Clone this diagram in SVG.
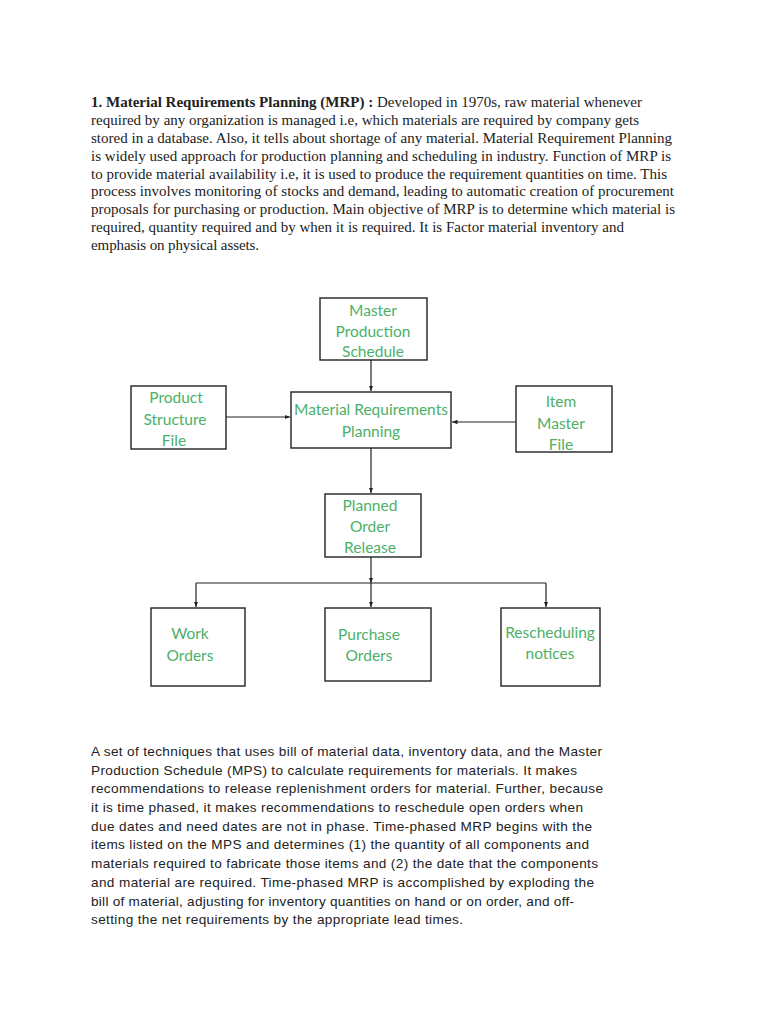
<svg xmlns="http://www.w3.org/2000/svg" width="768" height="1024" viewBox="0 0 768 1024">
<defs>
<style>
.p1{font-family:"Liberation Serif","Times New Roman",serif;font-size:15px;fill:#222}
.p2{font-family:"Liberation Sans",Arial,sans-serif;font-size:13.6px;fill:#222}
.box{fill:#fff;stroke:#222;stroke-width:1.4}
.lbl{font-family:Lato,"Open Sans",sans-serif;font-size:15.5px;fill:#4cb068;text-anchor:middle}
.con{stroke:#222;stroke-width:1.2;fill:none}
</style>
<marker id="ah" viewBox="0 0 10 10" refX="10" refY="5" markerWidth="5.5" markerHeight="5.5" orient="auto" markerUnits="userSpaceOnUse">
<path d="M0,1 L10,5 L0,9 z" fill="#222"/>
</marker>
</defs>
<rect width="768" height="1024" fill="#fff"/>
<g id="intro">
<text class="p1" x="91" y="107" textLength="551" lengthAdjust="spacing"><tspan font-weight="bold">1. Material Requirements Planning (MRP) :</tspan> Developed in 1970s, raw material whenever</text>
<text class="p1" x="91" y="125" textLength="548" lengthAdjust="spacing">required by any organization is managed i.e, which materials are required by company gets</text>
<text class="p1" x="91" y="143" textLength="581" lengthAdjust="spacing">stored in a database. Also, it tells about shortage of any material. Material Requirement Planning</text>
<text class="p1" x="91" y="161" textLength="580" lengthAdjust="spacing">is widely used approach for production planning and scheduling in industry. Function of MRP is</text>
<text class="p1" x="91" y="179" textLength="576" lengthAdjust="spacing">to provide material availability i.e, it is used to produce the requirement quantities on time. This</text>
<text class="p1" x="91" y="196" textLength="583" lengthAdjust="spacing">process involves monitoring of stocks and demand, leading to automatic creation of procurement</text>
<text class="p1" x="91" y="214" textLength="584" lengthAdjust="spacing">proposals for purchasing or production. Main objective of MRP is to determine which material is</text>
<text class="p1" x="91" y="232" textLength="533" lengthAdjust="spacing">required, quantity required and by when it is required. It is Factor material inventory and</text>
<text class="p1" x="91" y="250" textLength="168" lengthAdjust="spacing">emphasis on physical assets.</text>
</g>
<g id="connectors">
<line class="con" x1="371" y1="360" x2="371" y2="391" marker-end="url(#ah)"/>
<line class="con" x1="226" y1="417" x2="290" y2="417" marker-end="url(#ah)"/>
<line class="con" x1="516" y1="422" x2="452" y2="422" marker-end="url(#ah)"/>
<line class="con" x1="371" y1="448" x2="371" y2="493" marker-end="url(#ah)"/>
<line class="con" x1="371" y1="557" x2="371" y2="583" marker-end="url(#ah)"/>
<line class="con" x1="196" y1="583" x2="546" y2="583"/>
<line class="con" x1="196" y1="583" x2="196" y2="607" marker-end="url(#ah)"/>
<line class="con" x1="371" y1="583" x2="371" y2="607" marker-end="url(#ah)"/>
<line class="con" x1="546" y1="583" x2="546" y2="607" marker-end="url(#ah)"/>
</g>
<g id="mps">
<rect class="box" x="320" y="298" width="107" height="62"/>
<text class="lbl" x="373" y="316">Master</text>
<text class="lbl" x="373" y="337">Production</text>
<text class="lbl" x="373" y="357">Schedule</text>
</g>
<g id="psf">
<rect class="box" x="131" y="386" width="95" height="63"/>
<text class="lbl" x="176" y="403">Product</text>
<text class="lbl" x="175" y="425">Structure</text>
<text class="lbl" x="174" y="446">File</text>
</g>
<g id="mrp">
<rect class="box" x="291" y="392" width="160" height="56"/>
<text class="lbl" x="371" y="415">Material Requirements</text>
<text class="lbl" x="371" y="437">Planning</text>
</g>
<g id="imf">
<rect class="box" x="516" y="386" width="96" height="66"/>
<text class="lbl" x="561" y="407">Item</text>
<text class="lbl" x="561" y="429">Master</text>
<text class="lbl" x="561" y="450">File</text>
</g>
<g id="por">
<rect class="box" x="325" y="494" width="96" height="63"/>
<text class="lbl" x="370" y="511">Planned</text>
<text class="lbl" x="370" y="532">Order</text>
<text class="lbl" x="370" y="553">Release</text>
</g>
<g id="wo">
<rect class="box" x="151" y="608" width="94" height="78"/>
<text class="lbl" x="190" y="639">Work</text>
<text class="lbl" x="190" y="661">Orders</text>
</g>
<g id="po">
<rect class="box" x="325" y="608" width="106" height="73"/>
<text class="lbl" x="369" y="640">Purchase</text>
<text class="lbl" x="369" y="661">Orders</text>
</g>
<g id="rn">
<rect class="box" x="501" y="608" width="99" height="78"/>
<text class="lbl" x="550" y="638">Rescheduling</text>
<text class="lbl" x="550" y="659">notices</text>
</g>
<g id="summary">
<text class="p2" x="91" y="756" textLength="511" lengthAdjust="spacing">A set of techniques that uses bill of material data, inventory data, and the Master</text>
<text class="p2" x="91" y="775" textLength="486" lengthAdjust="spacing">Production Schedule (MPS) to calculate requirements for materials. It makes</text>
<text class="p2" x="91" y="793" textLength="512" lengthAdjust="spacing">recommendations to release replenishment orders for material. Further, because</text>
<text class="p2" x="91" y="812" textLength="492" lengthAdjust="spacing">it is time phased, it makes recommendations to reschedule open orders when</text>
<text class="p2" x="91" y="831" textLength="501" lengthAdjust="spacing">due dates and need dates are not in phase. Time-phased MRP begins with the</text>
<text class="p2" x="91" y="849" textLength="498" lengthAdjust="spacing">items listed on the MPS and determines (1) the quantity of all components and</text>
<text class="p2" x="91" y="868" textLength="507" lengthAdjust="spacing">materials required to fabricate those items and (2) the date that the components</text>
<text class="p2" x="91" y="887" textLength="503" lengthAdjust="spacing">and material are required. Time-phased MRP is accomplished by exploding the</text>
<text class="p2" x="91" y="906" textLength="483" lengthAdjust="spacing">bill of material, adjusting for inventory quantities on hand or on order, and off-</text>
<text class="p2" x="91" y="924" textLength="372" lengthAdjust="spacing">setting the net requirements by the appropriate lead times.</text>
</g>
</svg>
